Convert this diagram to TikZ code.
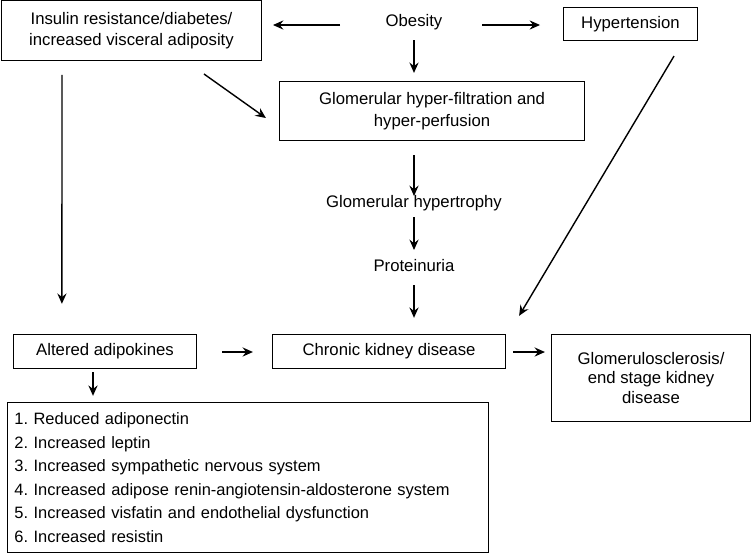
\documentclass[tikz,border=0pt]{standalone}
\usepackage{fontspec}
\setmainfont{Liberation Sans}
\usetikzlibrary{arrows.meta,positioning,calc}
\frenchspacing

\tikzset{
  txt/.style={font=\fontsize{11.9}{15.4}\selectfont, align=center},
  box/.style={txt, draw, line width=0.7pt, inner sep=0pt},
  arr/.style={-{Stealth[length=2.6mm,width=2.3mm,inset=0.9mm]}, line width=1pt},
}

\begin{document}
\begin{tikzpicture}
  \useasboundingbox (0,0) rectangle (18.775,-13.875);

  \node[txt] (ob) at (10.35,-0.55) {Obesity};
  \node[box, minimum width=6.5cm, minimum height=1.5cm] (ins) at (3.2875,-0.7625)
    {Insulin resistance/diabetes/\\increased visceral adiposity};
  \node[box, minimum width=3.35cm, minimum height=0.83cm] (hyp) at (15.7625,-0.6) {Hypertension};
  \node[box, minimum width=7.63cm, minimum height=1.48cm] (filt) at (10.8,-2.775)
    {Glomerular hyper-filtration and\\hyper-perfusion};
  \node[txt] (troph) at (10.35,-5.075) {Glomerular hypertrophy};
  \node[txt] (prot) at (10.35,-6.65) {Proteinuria};

  \node[box, minimum width=4.58cm, minimum height=0.86cm] (adip) at (2.625,-8.7875) {Altered adipokines};
  \node[box, minimum width=5.83cm, minimum height=0.86cm] (ckd) at (9.725,-8.7875) {Chronic kidney disease};
  \node[box, font=\fontsize{11.9}{14.2}\selectfont, minimum width=4.98cm, minimum height=2.18cm]
    (scl) at (16.275,-9.45) {Glomerulosclerosis/\\end stage kidney\\disease};
  \node[box, font=\fontsize{11.7}{16.7}\selectfont, align=left, text width=11.68cm,
    inner xsep=0.175cm, minimum height=3.76cm] (list) at (6.2,-11.9375)
    {1. Reduced adiponectin\\
     2. Increased leptin\\
     3. Increased sympathetic nervous system\\
     4. Increased adipose renin-angiotensin-aldosterone system\\
     5. Increased visfatin and endothelial dysfunction\\
     6. Increased resistin};

  \draw[arr, shorten <=1.85cm, shorten >=0.275cm] ([yshift=-0.075cm]ob.center) -- ([yshift=-0.075cm]ob.center -| ins.east);
  \draw[arr, shorten <=1.7cm, shorten >=0.575cm] ([yshift=-0.075cm]ob.center) -- ([yshift=-0.075cm]ob.center -| hyp.west);
  \draw[arr, shorten <=0.45cm, shorten >=0.2cm] (ob.center) -- (ob.center |- filt.north);
  \draw[arr] ([shift={(-1.45,-0.325)}]ins.south east) -- ([shift={(-0.325,-0.175)}]filt.west);
  \draw[arr] ([shift={(1.525,-0.35)}]ins.south west) -- ([shift={(1.225,0.75)}]adip.north west);
  \draw[arr, shorten <=0.35cm, shorten >=0.175cm] (troph.center |- filt.south) -- (troph.center);
  \draw[arr, shorten <=0.35cm, shorten >=0.4cm] (troph.center) -- (prot.center);
  \draw[arr, shorten <=0.475cm, shorten >=0.4cm] (prot.center) -- (prot.center |- ckd.north);
  \draw[arr] ([shift={(-0.6,-0.375)}]hyp.south east) -- ([shift={(0.325,0.45)}]ckd.north east);
  \draw[arr, shorten <=0.625cm, shorten >=0.475cm] ([yshift=-0.0125cm]adip.east) -- ([yshift=-0.0125cm]ckd.west);
  \draw[arr, shorten <=0.175cm, shorten >=0.15cm] ([yshift=-0.0125cm]ckd.east) -- ([yshift=-0.0125cm]ckd.east -| scl.west);
  \draw[arr, shorten <=0.075cm, shorten >=0.15cm] ([xshift=-0.3cm]adip.south) -- ([xshift=-0.3cm]adip.south |- list.north);
\end{tikzpicture}
\end{document}
